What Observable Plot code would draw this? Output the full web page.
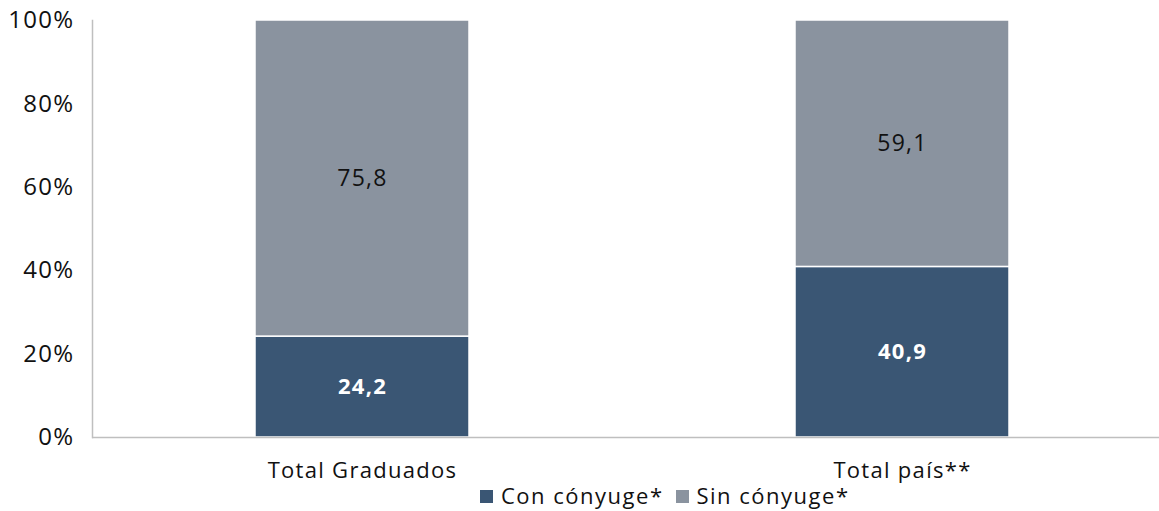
<!DOCTYPE html>
<html>
<head>
<meta charset="utf-8">
<script src="https://cdn.jsdelivr.net/npm/d3@7"></script>
<script src="https://cdn.jsdelivr.net/npm/@observablehq/plot@0.6"></script>
<style>
  body { margin: 0; background: #fff; font-family: "Open Sans", sans-serif; }
  #wrap { position: relative; width: 1159px; height: 511px; overflow: hidden; }
  #legend { position: absolute; top: 481px; left: 480px; display: flex; align-items: center; font-size: 22px; letter-spacing: 1.5px; color: #111; white-space: nowrap; line-height: 28px; }
  #legend .sw { width: 13px; height: 13px; display: inline-block; margin-right: 8px; margin-top: 3px; }
  #legend .item { display: flex; align-items: center; margin-right: 12px; }
  svg text { letter-spacing: 1.3px; }
</style>
</head>
<body>
<div id="wrap">
  <div id="chart"></div>
  <div id="legend"></div>
</div>
<script>
const categories = ["Total Graduados", "Total país**"];
const series = ["Con cónyuge*", "Sin cónyuge*"];
const conValues = [24.2, 40.9];
const sinValues = [75.8, 59.1];
const yTicks = [0, 20, 40, 60, 80, 100];
const colors = ["#3A5674", "#8A939F"];

const data = [];
categories.forEach((c, i) => {
  data.push({cat: c, series: series[0], value: conValues[i]});
  data.push({cat: c, series: series[1], value: sinValues[i]});
});
const fmt = v => v.toFixed(1).replace(".", ",");

const chart = Plot.plot({
  width: 1159,
  height: 483,
  marginTop: 20,
  marginBottom: 46,
  marginLeft: 92,
  marginRight: -13,
  style: {fontFamily: "'Open Sans', sans-serif", fontSize: "22px", color: "#111", overflow: "hidden"},
  x: {domain: categories, range: [92, 1172], paddingInner: 0.604, paddingOuter: 0.302, label: null},
  y: {domain: [0, 100], label: null},
  color: {domain: series, range: colors},
  marks: [
    Plot.barY(data, Plot.stackY({x: "cat", y: "value", z: "series", fill: "series", stroke: "white", strokeWidth: 1.5, order: series})),
    Plot.text(categories, {x: d => d, y: (d, i) => conValues[i] / 2, text: (d, i) => fmt(conValues[i]), fill: "white", fontWeight: "bold", fontSize: 22}),
    Plot.text(categories, {x: d => d, y: (d, i) => conValues[i] + sinValues[i] / 2, text: (d, i) => fmt(sinValues[i]), fill: "#111", fontSize: 23}),
    Plot.frame({anchor: "left", stroke: "#BFBFBF", strokeWidth: 1.5}),
    Plot.ruleY([0], {stroke: "#BFBFBF", strokeWidth: 1.5}),
    Plot.axisY({ticks: yTicks, tickFormat: d => d + "%", tickSize: 0, tickPadding: 18, fontSize: 24, fill: "#111"}),
    Plot.axisX({tickSize: 0, tickPadding: 25, fontSize: 22, fill: "#111", label: null})
  ]
});
document.getElementById("chart").appendChild(chart);

const legend = document.getElementById("legend");
series.forEach((s, i) => {
  const item = document.createElement("span");
  item.className = "item";
  const sw = document.createElement("span");
  sw.className = "sw";
  sw.style.background = colors[i];
  item.appendChild(sw);
  item.appendChild(document.createTextNode(s));
  legend.appendChild(item);
});
</script>
</body>
</html>
